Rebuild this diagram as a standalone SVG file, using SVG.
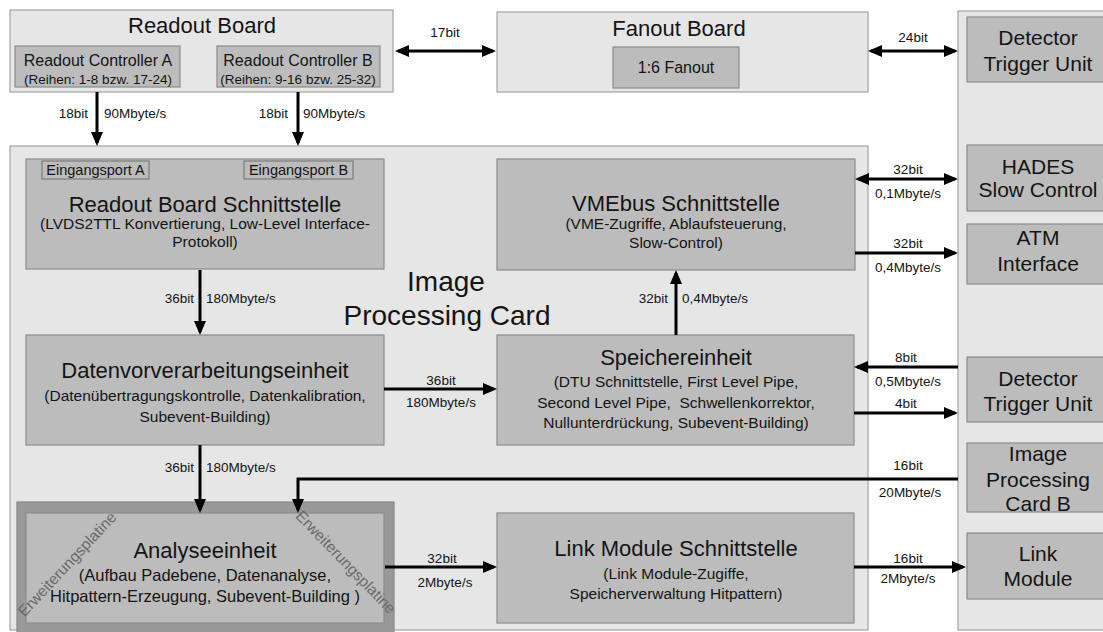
<svg xmlns="http://www.w3.org/2000/svg" width="1103" height="632" viewBox="0 0 1103 632">
<defs>
<style>
.panel{fill:#e6e6e6;stroke:#a4a4a4;stroke-width:1.2}
.box{fill:#bcbcbc;stroke:#8c8c8c;stroke-width:1.2}
.port{fill:#bcbcbc;stroke:#6e6e6e;stroke-width:1}
.ext{fill:#999999;stroke:#878787;stroke-width:1.2}
text{font-family:"Liberation Sans",Arial,sans-serif;fill:#141414;text-anchor:middle;dominant-baseline:central}
.h1{font-size:28px}
.h2{font-size:22px}
.h3{font-size:21px}
.s1{font-size:15.5px}
.s2{font-size:16.5px}
.s3{font-size:13.5px}
.lbl{font-size:13.5px}
.end{text-anchor:end}
.start{text-anchor:start}
.diag{font-size:15.5px;fill:#6a6a6a}
.wire{stroke:#000;stroke-width:3;fill:none}
</style>
<marker id="ah" markerUnits="userSpaceOnUse" markerWidth="14" markerHeight="12" refX="11" refY="6" orient="auto-start-reverse">
<path d="M0,0 L14,6 L0,12 Z" fill="#000"/>
</marker>
</defs>
<rect width="1103" height="632" fill="#ffffff"/>

<g id="readout-board">
<rect class="panel" x="10" y="10" width="383" height="82"/>
<text class="h2" x="202" y="25">Readout Board</text>
</g>
<g id="readout-controller-a">
<rect class="box" x="15" y="46" width="165" height="41"/>
<text class="s1" x="98" y="60" style="font-size:16px">Readout Controller A</text>
<text class="s3" x="98" y="79">(Reihen: 1-8 bzw. 17-24)</text>
</g>
<g id="readout-controller-b">
<rect class="box" x="217" y="46" width="163" height="41"/>
<text class="s1" x="298" y="60" style="font-size:16px">Readout Controller B</text>
<text class="s3" x="298" y="79">(Reihen: 9-16 bzw. 25-32)</text>
</g>

<g id="fanout-board">
<rect class="panel" x="497" y="12" width="371" height="80"/>
<text class="h2" x="679" y="28">Fanout Board</text>
</g>
<g id="fanout">
<rect class="box" x="613" y="47" width="126" height="41"/>
<text class="s1" x="676" y="67" style="font-size:16px">1:6 Fanout</text>
</g>

<g id="image-processing-card">
<rect class="panel" x="10" y="146" width="858" height="484"/>
<text class="h1" x="446" y="281">Image</text>
<text class="h1" x="447" y="315">Processing Card</text>
</g>

<g id="right-column">
<rect class="panel" x="958" y="11" width="150" height="619"/>
</g>

<g id="readout-board-schnittstelle">
<rect class="box" x="26" y="159" width="358" height="110"/>
<text class="h2" x="205" y="204">Readout Board Schnittstelle</text>
<text class="s1" x="205" y="223">(LVDS2TTL Konvertierung, Low-Level Interface-</text>
<text class="s1" x="205" y="241">Protokoll)</text>
</g>
<g id="eingangsport-a">
<rect class="port" x="42" y="161" width="107" height="18"/>
<text class="s3" x="95.5" y="170" style="font-size:14.5px">Eingangsport A</text>
</g>
<g id="eingangsport-b">
<rect class="port" x="244" y="161" width="109" height="18"/>
<text class="s3" x="298.5" y="170" style="font-size:14.5px">Eingangsport B</text>
</g>

<g id="vmebus-schnittstelle">
<rect class="box" x="497" y="159" width="358" height="111"/>
<text class="h2" x="676" y="203">VMEbus Schnittstelle</text>
<text class="s1" x="676" y="223">(VME-Zugriffe, Ablaufsteuerung,</text>
<text class="s1" x="676" y="242">Slow-Control)</text>
</g>

<g id="datenvorverarbeitungseinheit">
<rect class="box" x="26" y="335" width="358" height="110"/>
<text class="h2" x="205" y="370">Datenvorverarbeitungseinheit</text>
<text class="s1" x="205" y="395">(Datenübertragungskontrolle, Datenkalibration,</text>
<text class="s1" x="205" y="416">Subevent-Building)</text>
</g>

<g id="speichereinheit">
<rect class="box" x="497" y="335" width="357" height="110"/>
<text class="h2" x="676" y="357">Speichereinheit</text>
<text class="s1" x="676" y="381">(DTU Schnittstelle, First Level Pipe,</text>
<text class="s1" x="676" y="402" xml:space="preserve">Second Level Pipe,  Schwellenkorrektor,</text>
<text class="s1" x="676" y="422">Nullunterdrückung, Subevent-Building)</text>
</g>

<g id="erweiterungsplatine">
<rect class="ext" x="17" y="502" width="377" height="140"/>
</g>
<g id="analyseeinheit">
<rect class="box" x="26" y="513" width="358" height="110"/>
<text class="diag" transform="translate(67,564) rotate(-47)">Erweiterungsplatine</text>
<text class="diag" transform="translate(346,562) rotate(46)">Erweiterungsplatine</text>
<text class="h2" x="205" y="550">Analyseeinheit</text>
<text class="s2" x="205" y="575">(Aufbau Padebene, Datenanalyse,</text>
<text class="s2" x="205" y="596">Hitpattern-Erzeugung, Subevent-Building )</text>
</g>

<g id="link-module-schnittstelle">
<rect class="box" x="497" y="513" width="357" height="110"/>
<text class="h2" x="676" y="548">Link Module Schnittstelle</text>
<text class="s1" x="676" y="573">(Link Module-Zugiffe,</text>
<text class="s1" x="676" y="593">Speicherverwaltung Hitpattern)</text>
</g>

<g id="detector-trigger-unit-1">
<rect class="box" x="967" y="17" width="140" height="65"/>
<text class="h3" x="1038" y="37">Detector</text>
<text class="h3" x="1038" y="63">Trigger Unit</text>
</g>
<g id="hades-slow-control">
<rect class="box" x="967" y="145" width="140" height="66"/>
<text class="h3" x="1038" y="166">HADES</text>
<text class="h3" x="1038" y="189">Slow Control</text>
</g>
<g id="atm-interface">
<rect class="box" x="967" y="224" width="140" height="60"/>
<text class="h3" x="1038" y="237">ATM</text>
<text class="h3" x="1038" y="263">Interface</text>
</g>
<g id="detector-trigger-unit-2">
<rect class="box" x="967" y="357" width="140" height="65"/>
<text class="h3" x="1038" y="378">Detector</text>
<text class="h3" x="1038" y="403">Trigger Unit</text>
</g>
<g id="image-processing-card-b">
<rect class="box" x="967" y="443" width="140" height="69"/>
<text class="h3" x="1038" y="453">Image</text>
<text class="h3" x="1038" y="479">Processing</text>
<text class="h3" x="1038" y="503">Card B</text>
</g>
<g id="link-module">
<rect class="box" x="967" y="533" width="140" height="66"/>
<text class="h3" x="1038" y="553">Link</text>
<text class="h3" x="1038" y="578">Module</text>
</g>

<g id="connectors">
<path class="wire" d="M97,92 V143" marker-end="url(#ah)"/>
<path class="wire" d="M298,92 V143" marker-end="url(#ah)"/>
<path class="wire" d="M398,51 H493" marker-start="url(#ah)" marker-end="url(#ah)"/>
<path class="wire" d="M871,51 H955" marker-start="url(#ah)" marker-end="url(#ah)"/>
<path class="wire" d="M200,270 V332" marker-end="url(#ah)"/>
<path class="wire" d="M384,389 H494" marker-end="url(#ah)"/>
<path class="wire" d="M200,445 V510" marker-end="url(#ah)"/>
<path class="wire" d="M676,335 V273" marker-end="url(#ah)"/>
<path class="wire" d="M858,179 H955" marker-start="url(#ah)" marker-end="url(#ah)"/>
<path class="wire" d="M855,253 H955" marker-end="url(#ah)"/>
<path class="wire" d="M958,367 H857" marker-end="url(#ah)"/>
<path class="wire" d="M854,413 H955" marker-end="url(#ah)"/>
<path class="wire" d="M958,479 H298 V510" marker-end="url(#ah)"/>
<path class="wire" d="M385,567 H494" marker-end="url(#ah)"/>
<path class="wire" d="M854,567 H963" marker-end="url(#ah)"/>

<text class="lbl end" x="88" y="113">18bit</text>
<text class="lbl start" x="104" y="113">90Mbyte/s</text>
<text class="lbl end" x="288" y="113">18bit</text>
<text class="lbl start" x="303" y="113">90Mbyte/s</text>
<text class="lbl" x="445" y="32">17bit</text>
<text class="lbl" x="913" y="37">24bit</text>
<text class="lbl end" x="194" y="298">36bit</text>
<text class="lbl start" x="206" y="298">180Mbyte/s</text>
<text class="lbl" x="441" y="380">36bit</text>
<text class="lbl" x="441" y="402">180Mbyte/s</text>
<text class="lbl end" x="194" y="467">36bit</text>
<text class="lbl start" x="206" y="467">180Mbyte/s</text>
<text class="lbl end" x="668" y="298">32bit</text>
<text class="lbl start" x="682" y="298">0,4Mbyte/s</text>
<text class="lbl" x="908" y="169">32bit</text>
<text class="lbl" x="908" y="193">0,1Mbyte/s</text>
<text class="lbl" x="908" y="243">32bit</text>
<text class="lbl" x="908" y="267">0,4Mbyte/s</text>
<text class="lbl" x="906" y="357">8bit</text>
<text class="lbl" x="908" y="381">0,5Mbyte/s</text>
<text class="lbl" x="906" y="403">4bit</text>
<text class="lbl" x="908" y="465">16bit</text>
<text class="lbl" x="910" y="492">20Mbyte/s</text>
<text class="lbl" x="442" y="558">32bit</text>
<text class="lbl" x="445" y="582">2Mbyte/s</text>
<text class="lbl" x="908" y="558">16bit</text>
<text class="lbl" x="908" y="578">2Mbyte/s</text>
</g>
</svg>
